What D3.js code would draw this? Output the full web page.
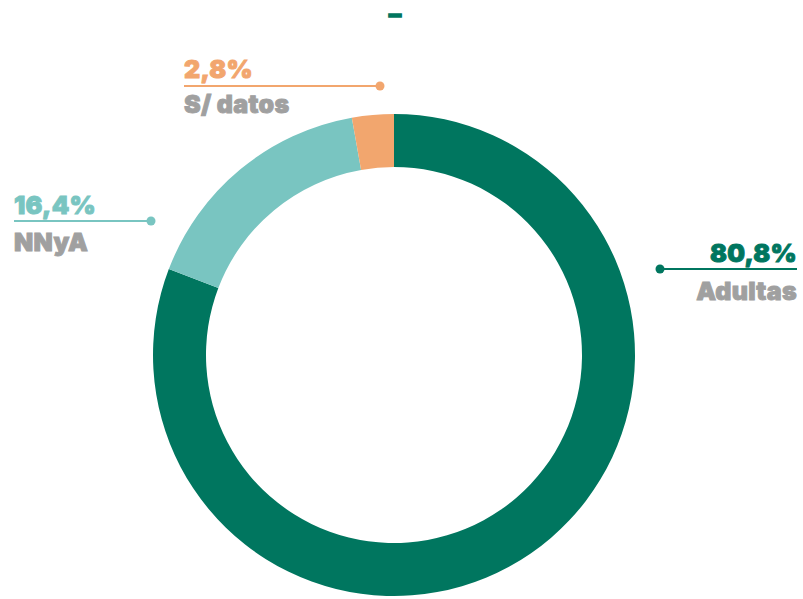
<!DOCTYPE html>
<html><head><meta charset="utf-8">
<script src="https://cdn.jsdelivr.net/npm/d3@7"></script>
<style>body{margin:0;background:#fff}svg{display:block}</style>
</head><body>
<script>
const categories = ["Adultas", "NNyA", "S/ datos"];
const values = [80.8, 16.4, 2.8];
const valueLabels = ["80,8%", "16,4%", "2,8%"];
const colors = ["#00765f", "#79c5c1", "#f2a66e"];
const title = "–";

const W = 803, H = 599;
const svg = d3.select("body").append("svg").attr("width", W).attr("height", H);
const cx = 394, cy = 355, rOuter = 241, rInner = 188;

const pie = d3.pie().sort(null).value(d => d)(values);
const arc = d3.arc().innerRadius(rInner).outerRadius(rOuter);
const g = svg.append("g").attr("transform", `translate(${cx},${cy})`);
g.selectAll("path").data(pie).join("path").attr("d", arc).attr("fill", (d, i) => colors[i]);

svg.append("text").attr("x", 389).attr("y", 21)
  .attr("font-family", "Inter, sans-serif").attr("font-weight", 900).attr("font-size", 20)
  .attr("textLength", 12).attr("lengthAdjust", "spacingAndGlyphs")
  .attr("fill", colors[0]).attr("stroke", colors[0]).attr("stroke-width", 1.6).text(title);

const font = "Inter, 'Open Sans', sans-serif";
const layout = [
  {x: 797, anchor: "end", py: 262, ly: 269, x1: 660, x2: 797, dot: 660, ny: 300},
  {x: 14, anchor: "start", py: 214, ly: 221, x1: 14, x2: 151, dot: 151, ny: 251},
  {x: 184, anchor: "start", py: 78, ly: 86, x1: 184, x2: 380, dot: 380, ny: 113}
];
function label(x, y, anchor, fill, txt) {
  svg.append("text").attr("x", x).attr("y", y).attr("text-anchor", anchor)
    .attr("font-family", font).attr("font-weight", 900).attr("font-size", 25)
    .attr("fill", fill).attr("stroke", fill).attr("stroke-width", 0.9)
    .attr("letter-spacing", 0.3).text(txt);
}
categories.forEach((c, i) => {
  const L = layout[i];
  label(L.x, L.py, L.anchor, colors[i], valueLabels[i]);
  svg.append("line").attr("x1", L.x1).attr("x2", L.x2).attr("y1", L.ly).attr("y2", L.ly)
    .attr("stroke", colors[i]).attr("stroke-width", 2);
  svg.append("circle").attr("cx", L.dot).attr("cy", L.ly).attr("r", 4.5).attr("fill", colors[i]);
  label(L.x, L.ny, L.anchor, "#a0a0a0", c);
});
</script>
</body></html>
